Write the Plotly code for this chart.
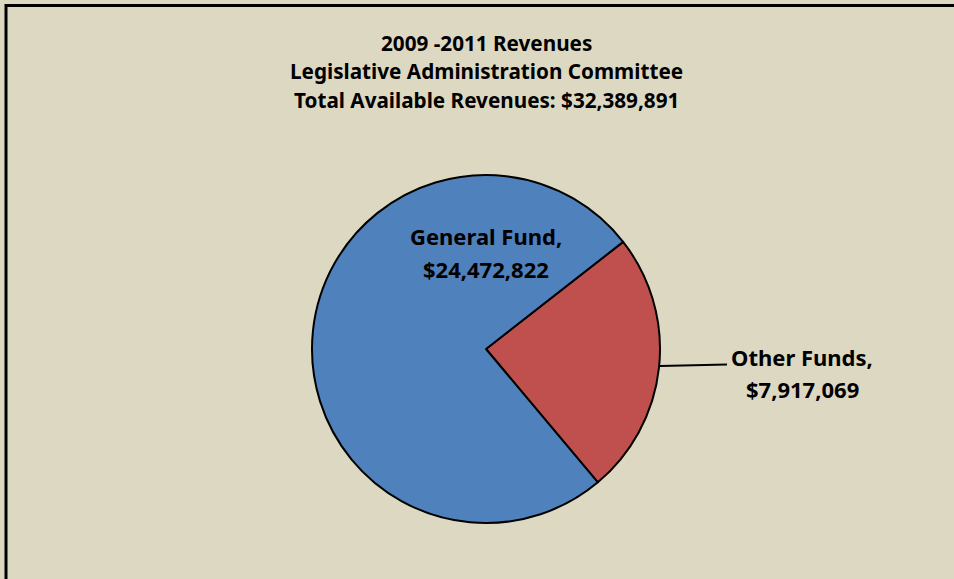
import plotly.graph_objects as go

W, H = 954, 579

categories = ["Other Funds", "General Fund"]
values = [7917069, 24472822]
colors = ["#C0504D", "#4F81BD"]
title_lines = ["2009 -2011 Revenues", "Legislative Administration Committee",
               "Total Available Revenues: $32,389,891"]

def px(x):
    return x / W

def py(y):
    return 1 - y / H

FONT = "Noto Sans"

fig = go.Figure(go.Pie(
    labels=categories,
    values=values,
    sort=False,
    direction="clockwise",
    rotation=52,
    marker=dict(colors=colors, line=dict(color="black", width=2)),
    textinfo="none",
    hoverinfo="label+value",
    showlegend=False,
    domain=dict(x=[px(312), px(660)], y=[py(523), py(175)]),
))

annotations = []
for i, line in enumerate(title_lines):
    annotations.append(dict(
        x=px(487), y=py(43 + i * 28.5), xref="paper", yref="paper",
        text="<b>%s</b>" % line, showarrow=False,
        font=dict(family=FONT, size=20.7, color="black"),
        xanchor="center", yanchor="middle"))

label_pos = {"General Fund": (486, 236, 269), "Other Funds": (802, 357, 389)}
for cat, val in zip(categories, values):
    x, y1, y2 = label_pos[cat]
    for y, txt in ((y1, "%s," % cat), (y2, "$%s" % format(val, ","))):
        annotations.append(dict(
            x=px(x), y=py(y), xref="paper", yref="paper",
            text="<b>%s</b>" % txt, showarrow=False,
            font=dict(family=FONT, size=22, color="black"),
            xanchor="center", yanchor="middle", align="center"))

shapes = [
    dict(type="rect", xref="paper", yref="paper",
         x0=px(6), y0=-0.1, x1=1.1, y1=py(5.5),
         line=dict(color="black", width=3), fillcolor="rgba(0,0,0,0)", layer="above"),
    dict(type="line", xref="paper", yref="paper",
         x0=px(660), y0=py(366), x1=px(727), y1=py(364.5),
         line=dict(color="black", width=2)),
]

fig.update_layout(
    width=W, height=H,
    margin=dict(l=0, r=0, t=0, b=0),
    paper_bgcolor="#DDD8C2",
    plot_bgcolor="#DDD8C2",
    annotations=annotations,
    shapes=shapes,
)

fig.write_html("out.html", config={"displayModeBar": False},
               post_script="document.body.style.margin='0';document.body.style.overflow='hidden';")
